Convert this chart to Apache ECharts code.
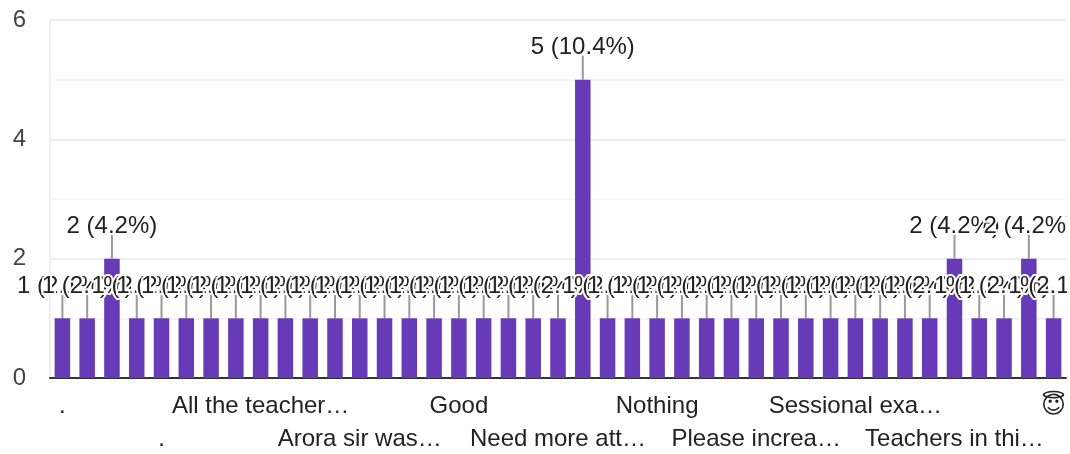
<!DOCTYPE html>
<html><head><meta charset="utf-8">
<style>html,body{margin:0;padding:0;background:#fff}#c{width:1067px;height:454px}</style>
<script src="https://cdn.jsdelivr.net/npm/echarts@6/dist/echarts.min.js"></script>
</head><body><div id="c"></div>
<script>
// Only every fourth category name is legible in the reference; the others stay empty.
const categories = [".","","","",".","","","","All the teacher…","","","","Arora sir was…","","","","Good","","","","Need more att…","","","","Nothing","","","","Please increa…","","","","Sessional exa…","","","","Teachers in thi…","","","","😇"];
const counts = [1,1,2,1,1,1,1,1,1,1,1,1,1,1,1,1,1,1,1,1,1,5,1,1,1,1,1,1,1,1,1,1,1,1,1,1,2,1,1,2,1];
const percents = ["2.1","2.1","4.2","2.1","2.1","2.1","2.1","2.1","2.1","2.1","2.1","2.1","2.1","2.1","2.1","2.1","2.1","2.1","2.1","2.1","2.1","10.4","2.1","2.1","2.1","2.1","2.1","2.1","2.1","2.1","2.1","2.1","2.1","2.1","2.1","2.1","4.2","2.1","2.1","4.2","2.1"];
const yTicks = [0,2,4,6];
const FONT = '"Liberation Sans","DejaVu Sans",sans-serif';
const xLabel = {fontFamily:FONT,fontSize:24,color:'#222',verticalAlign:'top',hideOverlap:false};
const chart = echarts.init(document.getElementById('c'), null, {renderer:'canvas'});
chart.setOption({
  animation:false,
  backgroundColor:'#fff',
  grid:{left:50,right:1,top:20,bottom:76,containLabel:false,outerBoundsMode:'none'},
  xAxis:[
   {type:'category',position:'bottom',data:categories,
    axisLine:{show:true,lineStyle:{color:'#333',width:2}},
    axisTick:{show:false},splitLine:{show:false},
    axisLabel:Object.assign({},xLabel,{margin:16,interval:i=>i%8===0})},
   {type:'category',position:'bottom',data:categories,
    axisLine:{show:false},axisTick:{show:false},splitLine:{show:false},
    axisLabel:Object.assign({},xLabel,{margin:49,interval:i=>i%8===4})}
  ],
  yAxis:{type:'value',min:yTicks[0],max:yTicks[3],interval:2,
    axisLine:{show:true,lineStyle:{color:'#eeeeee',width:2}},
    axisTick:{show:false},
    axisLabel:{margin:24,fontFamily:FONT,fontSize:24,color:'#444',padding:[6,0,0,0]},
    splitLine:{show:true,lineStyle:{color:'#eeeeee',width:2}},
    minorTick:{show:false,splitNumber:2},
    minorSplitLine:{show:true,lineStyle:{color:'#f6f6f6',width:2}}},
  series:[
    {type:'custom',z:1,silent:true,data:counts,
     renderItem:(p,api)=>{
       const c=api.coord([api.value(0),api.value(1)]);
       return {type:'line',shape:{x1:c[0],y1:c[1],x2:c[0],y2:c[1]-24},style:{stroke:'#999',lineWidth:2}};
     }},
    {type:'bar',z:2,data:counts,barWidth:15.5,itemStyle:{color:'#673ab7'},
     label:{show:true,position:'top',distance:20,fontFamily:FONT,fontSize:24,color:'#222',
       textBorderColor:'#fff',textBorderWidth:4,
       formatter:p=>counts[p.dataIndex]+' ('+percents[p.dataIndex]+'%)'}}
  ]
});
</script></body></html>
